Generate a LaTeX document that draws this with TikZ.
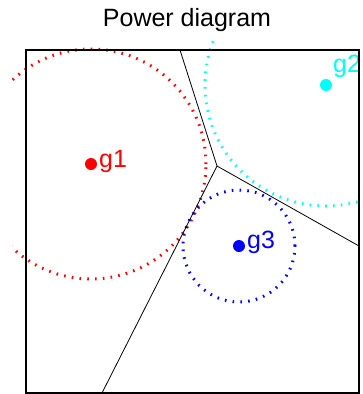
\documentclass[tikz,border=0pt]{standalone}
\usepackage{fontspec}
\setmainfont{Liberation Sans}
\definecolor{sitered}{RGB}{255,0,0}
\definecolor{sitecyan}{RGB}{0,255,255}
\definecolor{siteblue}{RGB}{0,0,255}
\begin{document}
\begin{tikzpicture}[x=1pt,y=-1pt,
	site/.style={circle,fill,inner sep=0pt,minimum size=12pt},
	sitelabel/.style={anchor=base west,inner sep=0pt,font=\fontsize{25}{25}\selectfont},
	powercircle/.style={line width=3pt,dash pattern=on 1.6pt off 6.2pt}]
	\useasboundingbox (0,0) rectangle (363,394);
	\node[anchor=base,inner sep=0pt,font=\fontsize{25}{25}\selectfont] (title) at (187,26) {Power diagram};
	% sites
	\node[site,sitered] (g1) at (91,164) {};
	\node[site,sitecyan] (g2) at (326,85) {};
	\node[site,siteblue] (g3) at (239,246) {};
	\node[sitelabel,sitered] (g1text) at (99,167) {g1};
	\node[sitelabel,sitecyan] (g2text) at (333,72) {g2};
	\node[sitelabel,siteblue] (g3text) at (247,248) {g3};
	% weight circles
	\begin{scope}
		\clip (12,40) rectangle (363,394);
		\draw[powercircle,sitered] (g1.center) circle[radius=115pt];
		\draw[powercircle,sitecyan] (g2.center) circle[radius=121pt];
		\draw[powercircle,siteblue] (g3.center) circle[radius=56pt];
	\end{scope}
	% cells
	\coordinate (vtx) at (217,166);
	\coordinate (top) at (180,50);
	\coordinate (right) at (359,246);
	\coordinate (bottom) at (102,393);
	\draw[black,line width=0.8pt] (top) -- (vtx);
	\draw[black,line width=0.8pt] (vtx) -- (right);
	\draw[black,line width=0.8pt] (vtx) -- (bottom);
	\draw[black,line width=2pt] (26,50) rectangle (359,393);
\end{tikzpicture}
\end{document}
